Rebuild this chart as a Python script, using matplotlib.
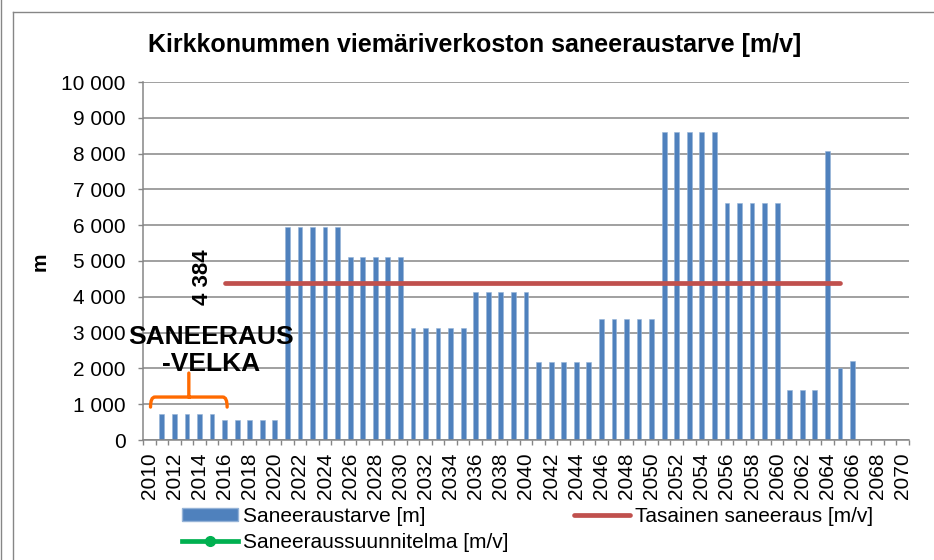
import matplotlib
matplotlib.use("Agg")
import numpy as np
import matplotlib.pyplot as plt
from matplotlib.path import Path
from matplotlib.patches import PathPatch, Patch
from matplotlib.lines import Line2D
from matplotlib.ticker import FuncFormatter, MultipleLocator

plt.rcParams['font.family'] = ['Liberation Sans', 'DejaVu Sans']

# ------------------------------
# Data
# ------------------------------
years = list(range(2010, 2071))
saneeraustarve = [0,
                  730, 730, 730, 730, 730,
                  560, 560, 560, 560, 560,
                  5950, 5950, 5950, 5950, 5950,
                  5120, 5120, 5120, 5120, 5120,
                  3130, 3130, 3130, 3130, 3130,
                  4130, 4130, 4130, 4130, 4130,
                  2180, 2180, 2180, 2180, 2180,
                  3380, 3380, 3380, 3380, 3380,
                  8590, 8590, 8590, 8590, 8590,
                  6620, 6620, 6620, 6620, 6620,
                  1390, 1390, 1390,
                  8080, 2000, 2220,
                  0, 0, 0, 0]
tasainen_years = list(range(2016, 2066))
tasainen = [4384] * len(tasainen_years)
suunnitelma_years = []
suunnitelma = []

# bracket over the "saneerausvelka" years (2010..2016)
brace_x = [2010.1, 2013.15, 2016.2]
brace_y = [920, 1200, 1870]

blue = '#4F81BD'
red = '#C0504D'
green = '#00B050'
grid_c = '#868686'

fig = plt.figure(figsize=(9.34, 5.6), dpi=100)
ax = fig.add_axes([143 / 934, 1 - 440 / 560, 766 / 934, 358 / 560])

ax.bar(years, saneeraustarve, width=0.38, color=blue, edgecolor='#95B3D7',
       linewidth=0.4, zorder=2)
ax.plot(tasainen_years, tasainen, color=red, lw=3.4, solid_capstyle='round', zorder=3)
ax.plot(suunnitelma_years, suunnitelma, color=green, lw=3.4, marker='o', zorder=3)

ax.set_xlim(2009.5, 2070.5)
ax.set_ylim(0, 10000)
ax.yaxis.set_major_locator(MultipleLocator(1000))
ax.yaxis.set_major_formatter(FuncFormatter(lambda v, p: f"{int(v):,}".replace(",", " ")))
ax.set_xticks(years[::2])
ax.set_xticklabels([str(y) for y in years[::2]], rotation=90)
ax.set_xticks(np.arange(2009.5, 2071, 1), minor=True)
ax.tick_params(axis='x', which='major', length=0, pad=9, labelsize=15)
ax.tick_params(axis='x', which='minor', length=3.6, width=1, color=grid_c)
ax.tick_params(axis='y', length=3.6, width=1, color=grid_c, pad=9, labelsize=15)
ax.grid(axis='y', color=grid_c, lw=1.1)
ax.set_axisbelow(True)
for s in ['top', 'right']:
    ax.spines[s].set_visible(False)
for s in ['left', 'bottom']:
    ax.spines[s].set_color(grid_c)
    ax.spines[s].set_linewidth(1.1)

# bracket
x0, xm, x1 = brace_x
yb, yh, yt = brace_y
r = 0.35
verts = [(x0, yb), (x0, yh), (x0 + r, yh),
         (xm, yh), (xm, yt), (xm, yh),
         (x1 - r, yh), (x1, yh), (x1, yb)]
codes = [Path.MOVETO, Path.CURVE3, Path.CURVE3,
         Path.LINETO, Path.LINETO, Path.MOVETO,
         Path.LINETO, Path.CURVE3, Path.CURVE3]
ax.add_patch(PathPatch(Path(verts, codes), fill=False, edgecolor='#FF6A00',
                       lw=2.4, capstyle='round', zorder=4))

ax.text(2014.92, 2500, "SANEERAUS\n-VELKA", ha='center', va='center',
        fontsize=19, fontweight='bold', linespacing=1.15, zorder=5)
ax.text(2014.2, 4560, "4 384", rotation=90, ha='center', va='center',
        fontsize=16, fontweight='bold', zorder=5)

fig.text(475 / 934, 1 - 45 / 560, "Kirkkonummen viemäriverkoston saneeraustarve [m/v]",
         ha='center', va='center', fontsize=18, fontweight='bold')
fig.text(40 / 934, 1 - 262 / 560, "m", rotation=90, ha='center', va='center',
         fontsize=15, fontweight='bold')

handles = [Patch(facecolor=blue, edgecolor='#95B3D7'),
           Line2D([], [], color=green, lw=3.4, marker='o', ms=7),
           Line2D([], [], color=red, lw=3.4, solid_capstyle='round')]
labels = ["Saneeraustarve [m]", "Saneeraussuunnitelma [m/v]", "Tasainen saneeraus [m/v]"]
fig.legend(handles, labels, loc='upper left', bbox_to_anchor=(182 / 934, 1 - 507 / 560),
           ncol=2, frameon=False, fontsize=15, handlelength=2.7, handleheight=0.55,
           handletextpad=0.25, columnspacing=3.1, labelspacing=0.35,
           borderpad=0, borderaxespad=0)

# chart frame
fig.add_artist(Line2D([13 / 934, 1], [1 - 12 / 560, 1 - 12 / 560], color=grid_c, lw=1))
fig.add_artist(Line2D([13 / 934, 13 / 934], [0, 1 - 12 / 560], color=grid_c, lw=1))
fig.add_artist(Line2D([1 / 934, 1 / 934], [0, 1], color=grid_c, lw=1))

fig.savefig("out.png", dpi=100)
